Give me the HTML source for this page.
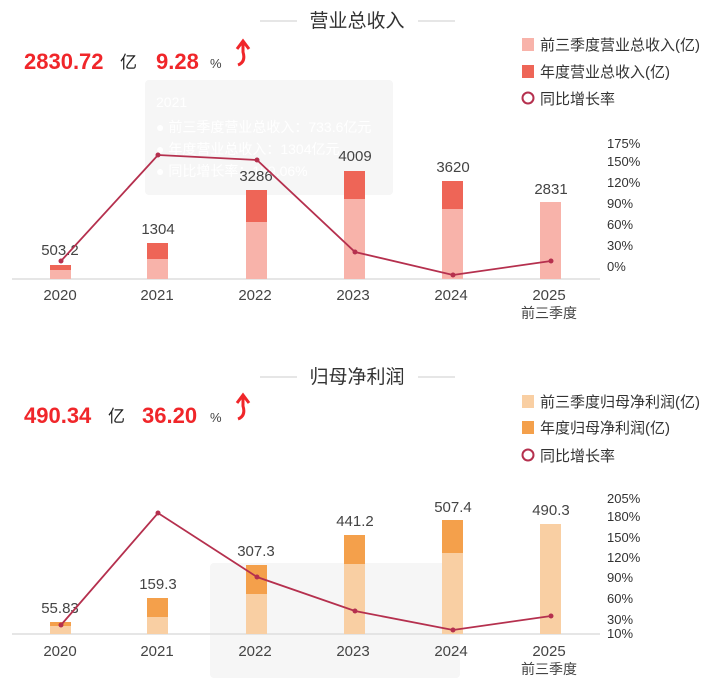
<!DOCTYPE html><html><head><meta charset="utf-8"><style>body{margin:0;background:#fff}svg{display:block}text{font-family:"Liberation Sans","Noto Sans CJK SC",sans-serif}</style></head><body>
<svg width="703" height="682" viewBox="0 0 703 682">
<g id="top">
<line x1="260" y1="21" x2="297" y2="21" stroke="#ccc"/><line x1="418" y1="21" x2="455" y2="21" stroke="#ccc"/>
<text x="357" y="27" font-size="19" fill="#333" text-anchor="middle">营业总收入</text>
<text x="24" y="69" font-size="22" font-weight="bold" fill="#f0262a">2830.72</text>
<text x="120" y="68" font-size="17" fill="#222">亿</text>
<text x="156" y="69" font-size="22" font-weight="bold" fill="#f0262a">9.28</text>
<text x="210" y="68" font-size="13" fill="#444">%</text>
<path d="M238 65 Q246 62 243 52 L243 42 M237 49 L243 41 L249 49" stroke="#f0262a" stroke-width="3" fill="none"/>
<rect x="145" y="80" width="248" height="115" rx="4" fill="#f6f6f6"/>
<g font-size="14" fill="#fff"><text x="156" y="107">2021</text><text x="156" y="132">● 前三季度营业总收入：733.6亿元</text><text x="156" y="154">● 年度营业总收入：1304亿元</text><text x="156" y="176">● 同比增长率：159.06%</text></g>
<rect x="522" y="38" width="12" height="13" fill="#f8b3aa"/><text x="540" y="50" font-size="15" fill="#333">前三季度营业总收入(亿)</text>
<rect x="522" y="65" width="12" height="13" fill="#ee6557"/><text x="540" y="77" font-size="15" fill="#333">年度营业总收入(亿)</text>
<circle cx="528" cy="98" r="5.5" fill="none" stroke="#b5304e" stroke-width="2"/><text x="540" y="104" font-size="15" fill="#333">同比增长率</text>
<line x1="12" y1="279" x2="600" y2="279" stroke="#ddd" stroke-width="1.5"/>
<g fill="#f8b3aa"><rect x="50" y="270" width="21" height="9"/><rect x="147" y="259" width="21" height="20"/><rect x="246" y="222" width="21" height="57"/><rect x="344" y="199" width="21" height="80"/><rect x="442" y="209" width="21" height="70"/><rect x="540" y="202" width="21" height="77"/></g>
<g fill="#ee6557"><rect x="50" y="265" width="21" height="5"/><rect x="147" y="243" width="21" height="16"/><rect x="246" y="190" width="21" height="32"/><rect x="344" y="171" width="21" height="28"/><rect x="442" y="181" width="21" height="28"/></g>
<g font-size="15" fill="#444" text-anchor="middle"><text x="60" y="255">503.2</text><text x="158" y="234">1304</text><text x="256" y="181">3286</text><text x="355" y="161">4009</text><text x="453" y="172">3620</text><text x="551" y="194">2831</text></g>
<polyline points="61,261 158,155 257,160 355,252 453,275 551,261" fill="none" stroke="#b5304e" stroke-width="1.8"/>
<g fill="#b5304e"><circle cx="61" cy="261" r="2.5"/><circle cx="158" cy="155" r="2.5"/><circle cx="257" cy="160" r="2.5"/><circle cx="355" cy="252" r="2.5"/><circle cx="453" cy="275" r="2.5"/><circle cx="551" cy="261" r="2.5"/></g>
<g font-size="13" fill="#333"><text x="607" y="148">175%</text><text x="607" y="166">150%</text><text x="607" y="187">120%</text><text x="607" y="208">90%</text><text x="607" y="229">60%</text><text x="607" y="250">30%</text><text x="607" y="271">0%</text></g>
<g font-size="15" fill="#444" text-anchor="middle"><text x="60" y="300">2020</text><text x="157" y="300">2021</text><text x="255" y="300">2022</text><text x="353" y="300">2023</text><text x="451" y="300">2024</text><text x="549" y="300">2025</text><text x="549" y="318" font-size="14">前三季度</text></g>
</g>
<g id="bot">
<line x1="260" y1="377" x2="297" y2="377" stroke="#ccc"/><line x1="418" y1="377" x2="455" y2="377" stroke="#ccc"/>
<text x="357" y="383" font-size="19" fill="#333" text-anchor="middle">归母净利润</text>
<text x="24" y="423" font-size="22" font-weight="bold" fill="#f0262a">490.34</text>
<text x="108" y="422" font-size="17" fill="#222">亿</text>
<text x="142" y="423" font-size="22" font-weight="bold" fill="#f0262a">36.20</text>
<text x="210" y="422" font-size="13" fill="#444">%</text>
<path d="M238 419 Q246 416 243 406 L243 396 M237 403 L243 395 L249 403" stroke="#f0262a" stroke-width="3" fill="none"/>
<rect x="210" y="563" width="250" height="115" rx="4" fill="#f6f6f6"/>
<rect x="522" y="395" width="12" height="13" fill="#f9cfa3"/><text x="540" y="407" font-size="15" fill="#333">前三季度归母净利润(亿)</text>
<rect x="522" y="421" width="12" height="13" fill="#f4a04b"/><text x="540" y="433" font-size="15" fill="#333">年度归母净利润(亿)</text>
<circle cx="528" cy="455" r="5.5" fill="none" stroke="#b5304e" stroke-width="2"/><text x="540" y="461" font-size="15" fill="#333">同比增长率</text>
<line x1="12" y1="634" x2="600" y2="634" stroke="#ddd" stroke-width="1.5"/>
<g fill="#f9cfa3"><rect x="50" y="626" width="21" height="8"/><rect x="147" y="617" width="21" height="17"/><rect x="246" y="594" width="21" height="40"/><rect x="344" y="564" width="21" height="70"/><rect x="442" y="553" width="21" height="81"/><rect x="540" y="524" width="21" height="110"/></g>
<g fill="#f4a04b"><rect x="50" y="622" width="21" height="4"/><rect x="147" y="598" width="21" height="19"/><rect x="246" y="565" width="21" height="29"/><rect x="344" y="535" width="21" height="29"/><rect x="442" y="520" width="21" height="33"/></g>
<g font-size="15" fill="#444" text-anchor="middle"><text x="60" y="613">55.83</text><text x="158" y="589">159.3</text><text x="256" y="556">307.3</text><text x="355" y="526">441.2</text><text x="453" y="512">507.4</text><text x="551" y="515">490.3</text></g>
<polyline points="61,625 158,513 257,577 355,611 453,630 551,616" fill="none" stroke="#b5304e" stroke-width="1.8"/>
<g fill="#b5304e"><circle cx="61" cy="625" r="2.5"/><circle cx="158" cy="513" r="2.5"/><circle cx="257" cy="577" r="2.5"/><circle cx="355" cy="611" r="2.5"/><circle cx="453" cy="630" r="2.5"/><circle cx="551" cy="616" r="2.5"/></g>
<g font-size="13" fill="#333"><text x="607" y="503">205%</text><text x="607" y="521">180%</text><text x="607" y="542">150%</text><text x="607" y="562">120%</text><text x="607" y="582">90%</text><text x="607" y="603">60%</text><text x="607" y="624">30%</text><text x="607" y="638">10%</text></g>
<g font-size="15" fill="#444" text-anchor="middle"><text x="60" y="656">2020</text><text x="157" y="656">2021</text><text x="255" y="656">2022</text><text x="353" y="656">2023</text><text x="451" y="656">2024</text><text x="549" y="656">2025</text><text x="549" y="674" font-size="14">前三季度</text></g>
</g>
</svg></body></html>
